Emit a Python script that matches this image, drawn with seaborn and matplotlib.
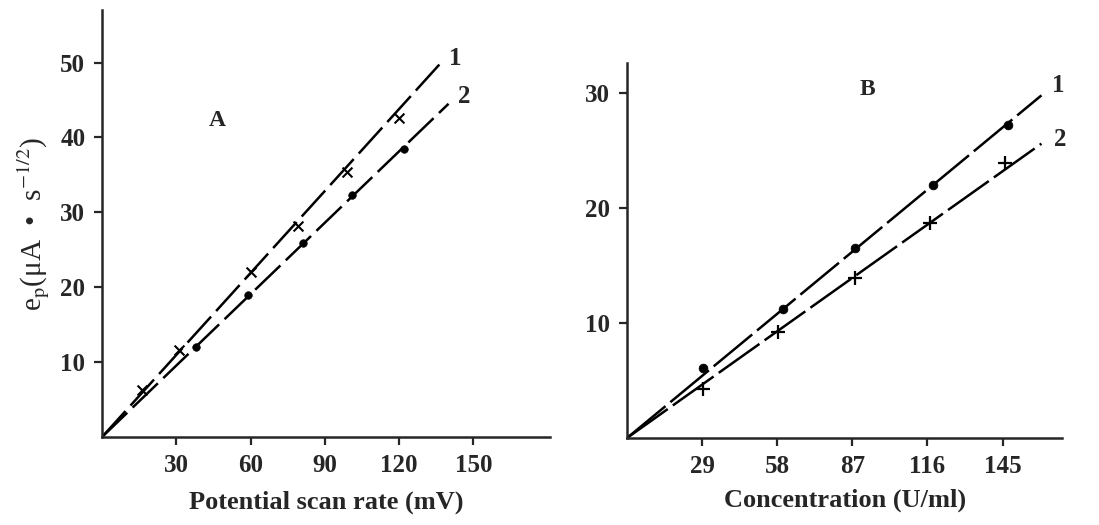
import matplotlib
matplotlib.use("Agg")
import matplotlib.pyplot as plt
import seaborn as sns

# panel A: peak current vs potential scan rate
a_x1 = [16, 31, 60, 79, 99, 120]
a_y1 = [6.3, 11.6, 22.0, 28.2, 35.4, 42.6]
a_x2 = [38, 59, 81, 101, 122]
a_y2 = [12.0, 19.0, 25.9, 32.3, 38.4]
a_fit_x = [0, 137]
a_fit1 = [0, 50.0]
a_fit_x2 = [0, 140]
a_fit2 = [0, 44.5]
a_xticks = [30, 60, 90, 120, 150]
a_yticks = [10, 20, 30, 40, 50]

# panel B: peak current vs concentration
b_x1 = [29.4, 60.3, 88, 118, 147]
b_y1 = [6.1, 11.2, 16.5, 22.0, 27.2]
b_x2 = [29.4, 58.4, 88, 117, 146]
b_y2 = [4.3, 9.2, 13.9, 18.7, 23.9]
b_fit_x = [0, 160]
b_fit1 = [0, 29.8]
b_fit2 = [0, 25.6]
b_xticks = [29, 58, 87, 116, 145]
b_yticks = [10, 20, 30]

sns.set_style("ticks")
plt.rcParams['font.family'] = ['Liberation Serif', 'DejaVu Serif']
plt.rcParams['mathtext.fontset'] = 'stix'

fig = plt.figure(figsize=(10.99, 5.25), dpi=100)
axA = fig.add_axes([0.0928, 0.1676, 0.4077, 0.813])
axB = fig.add_axes([0.5705, 0.1657, 0.396, 0.714])

lw = 1.8

# --- A ---
sns.lineplot(x=a_fit_x, y=a_fit1, ax=axA, color="black", lw=lw)
sns.lineplot(x=a_fit_x2, y=a_fit2, ax=axA, color="black", lw=lw)
for ln in axA.lines:
    ln.set_dashes((14, 3))
sns.scatterplot(x=a_x1, y=a_y1, ax=axA, marker="x", s=50, color="black", linewidth=1.5)
sns.scatterplot(x=a_x2, y=a_y2, ax=axA, marker="o", s=30, color="black", edgecolor="black")
axA.set_xlim(0, 181)
axA.set_ylim(0, 57)
axA.set_xticks(a_xticks)
axA.set_yticks(a_yticks)
axA.set_xlabel("Potential scan rate (mV)", fontsize=19, fontweight="bold", labelpad=10)
axA.set_ylabel(r"e$_\mathrm{p}$(μA  •  s$^{-1/2}$)", fontsize=21, labelpad=6)
axA.text(140, 50.5, "1", fontsize=18, fontweight="bold", ha="left", va="center")
axA.text(144, 45.5, "2", fontsize=18, fontweight="bold", ha="left", va="center")
axA.text(46.5, 42.3, "A", fontsize=17, fontweight="bold", ha="center", va="center")

# --- B ---
sns.lineplot(x=b_fit_x, y=b_fit1, ax=axB, color="black", lw=lw)
sns.lineplot(x=b_fit_x, y=b_fit2, ax=axB, color="black", lw=lw)
for ln in axB.lines:
    ln.set_dashes((20, 2.5))
sns.scatterplot(x=b_x1, y=b_y1, ax=axB, marker="o", s=40, color="black", edgecolor="black")
sns.scatterplot(x=b_x2, y=b_y2, ax=axB, marker="+", s=90, color="black", linewidth=1.6)
axB.set_xlim(0, 168)
axB.set_ylim(0, 32.6)
axB.set_xticks(b_xticks)
axB.set_yticks(b_yticks)
axB.set_xlabel("Concentration (U/ml)", fontsize=19, fontweight="bold", labelpad=8)
axB.text(164, 30.7, "1", fontsize=18, fontweight="bold", ha="left", va="center")
axB.text(165, 26.0, "2", fontsize=18, fontweight="bold", ha="left", va="center")
axB.text(93, 30.3, "B", fontsize=17, fontweight="bold", ha="center", va="center")

for ax in (axA, axB):
    sns.despine(ax=ax)
    ax.spines["left"].set_linewidth(1.8)
    ax.spines["bottom"].set_linewidth(1.8)
    ax.tick_params(direction="out", length=6, width=1.6, labelsize=18, pad=6)
    for lab in ax.get_xticklabels() + ax.get_yticklabels():
        lab.set_fontweight("bold")

fig.savefig("out.png", dpi=100)
